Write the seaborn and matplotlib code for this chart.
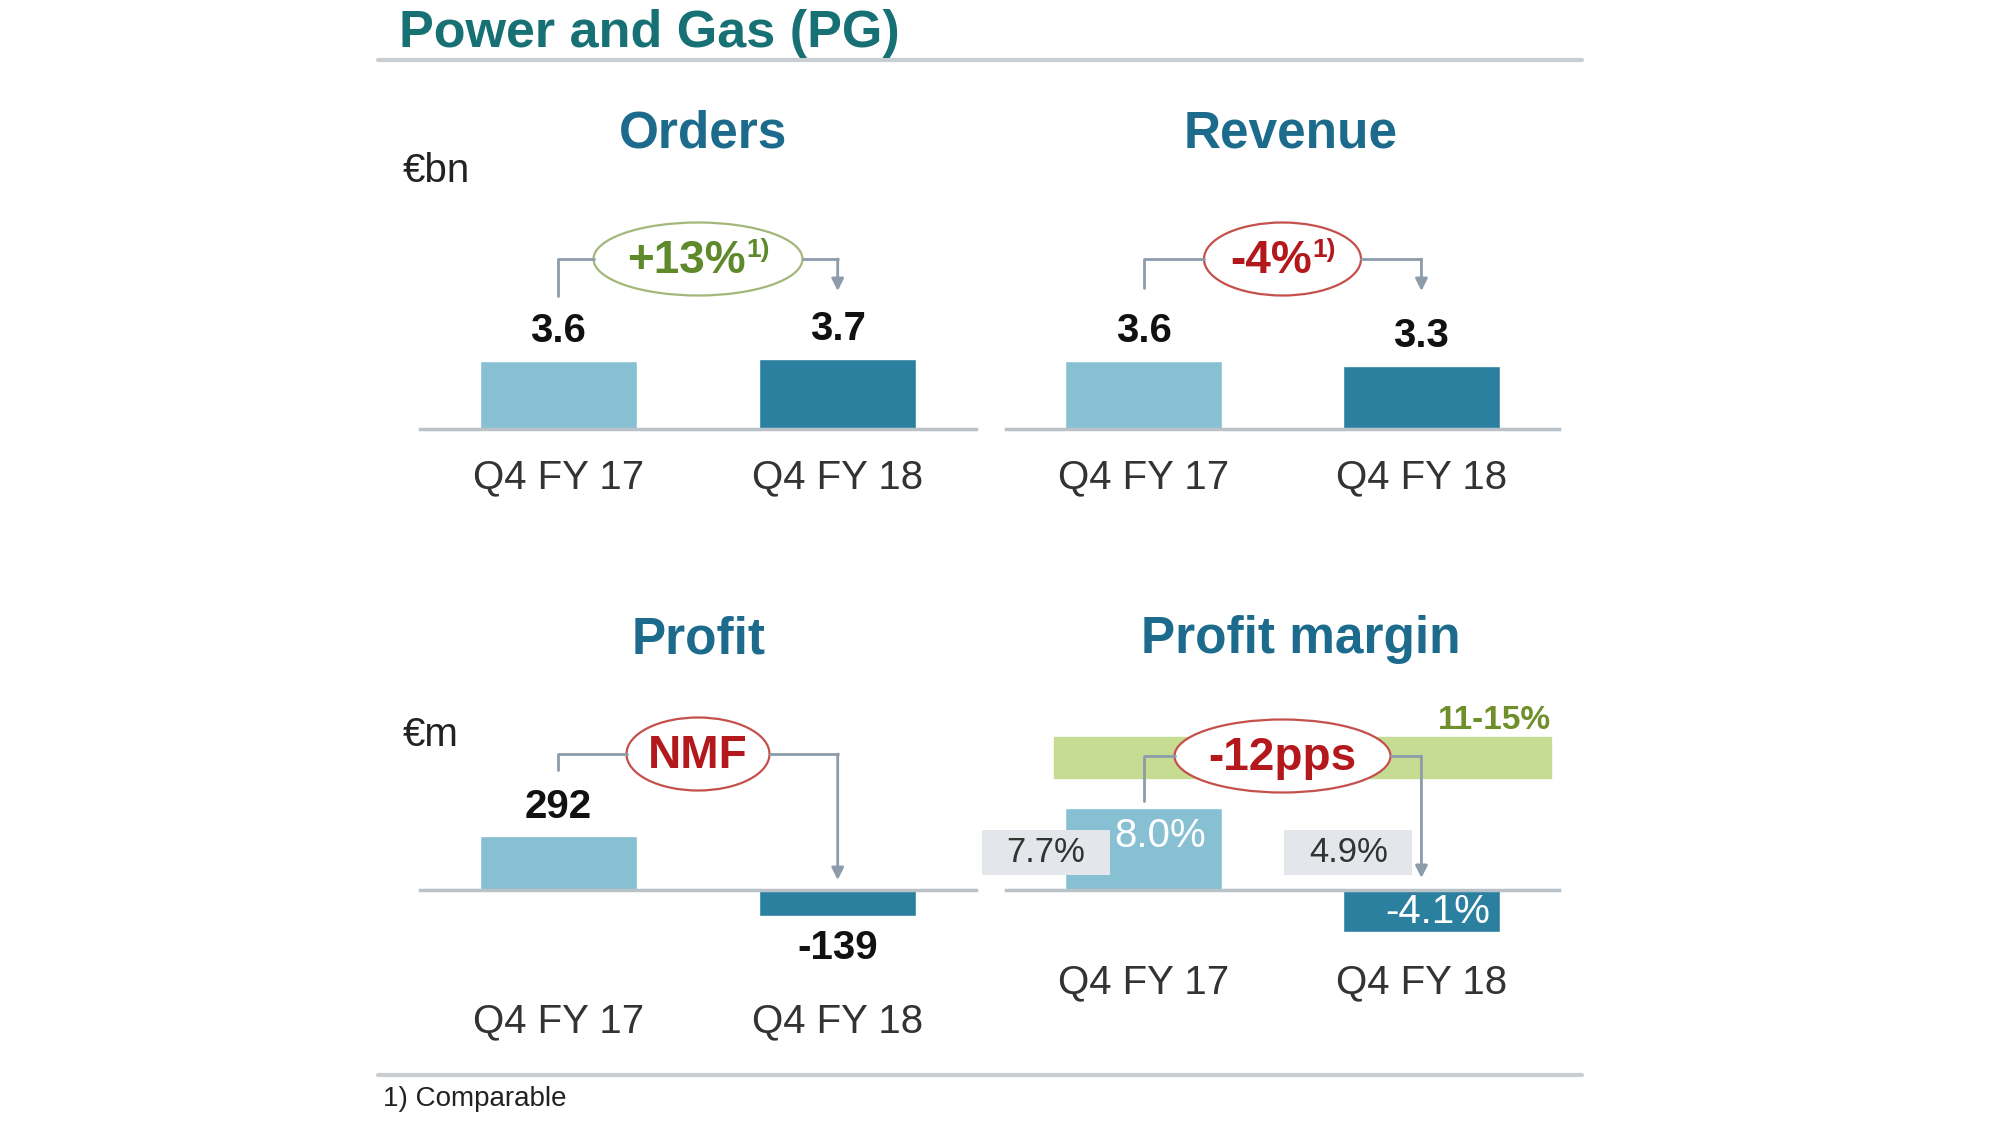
import matplotlib
matplotlib.use("Agg")
import matplotlib.pyplot as plt
import pandas as pd
import seaborn as sns
from matplotlib.lines import Line2D
from matplotlib.patches import Ellipse, FancyArrowPatch, Rectangle

# values
periods = ["Q4 FY 17", "Q4 FY 18"]
orders = [3.6, 3.7]
revenue = [3.6, 3.3]
profit = [292, -139]
margin = [8.0, -4.1]
margin_comparable = [7.7, 4.9]
margin_target = [11, 15]
change_labels = ["+13%", "-4%", "NMF", "-12pps"]
change_notes = ["1)", "1)", "", ""]
change_tone = ["up", "down", "down", "down"]

W, H = 2000, 1125
LIGHT, DARK = "#88c0d3", "#2b80a0"
HEAD = "#1c6a8c"
LINE = "#8d9cab"
TONES = {"up": ("#a3b77a", "#5f8a2c"), "down": ("#c4504c", "#b2181c")}

sns.set_theme(style="white")
plt.rcParams["font.family"] = ["Liberation Sans", "DejaVu Sans"]

fig = plt.figure(figsize=(20, 11.25), dpi=100)
fig.patch.set_facecolor("white")


def fx(px):
    return px / W


def fy(py):
    return 1 - py / H


def panel(values, x0, x1, top, bottom, base, scale, pad):
    ax = fig.add_axes([fx(x0), fy(bottom), (x1 - x0) / W, (bottom - top) / H])
    df = pd.DataFrame({"period": periods, "value": values})
    sns.barplot(data=df, x="period", y="value", hue="period", palette=[LIGHT, DARK],
                width=0.563, saturation=1, legend=False, ax=ax)
    ax.set_xlim(-0.495, 1.495)
    ax.set_ylim(-(bottom - base) / scale, (base - top) / scale)
    for side in ["top", "right", "left"]:
        ax.spines[side].set_visible(False)
    ax.spines["bottom"].set_position(("data", 0))
    ax.spines["bottom"].set_color("#b9c1c9")
    ax.spines["bottom"].set_linewidth(2.5)
    ax.set_yticks([])
    ax.set_xlabel("")
    ax.set_ylabel("")
    ax.tick_params(axis="x", length=0, pad=pad, labelsize=29, labelcolor="#333333")
    ax.patch.set_alpha(0)
    return ax


def bar_px(ax, i):
    return ax.transData.transform((i, 0))[0]


def value_labels(ax, values, fmt, up=30, down=32):
    for i, v in enumerate(values):
        off = up if v >= 0 else -down
        ax.annotate(fmt(v), (i, v), xytext=(0, off / 1.389), textcoords="offset points",
                    ha="center", va="center", fontsize=29, weight="bold", color="#111111")


def bracket(ax, k, cy, ew, y_left, y_arrow, eh=73):
    xl, xr = bar_px(ax, 0), bar_px(ax, 1)
    cx = (xl + xr) / 2
    edge, txt = TONES[change_tone[k]]
    kw = dict(color=LINE, lw=2, transform=fig.transFigure)
    fig.add_artist(Line2D([fx(xl), fx(xl), fx(cx - ew / 2)], [fy(y_left), fy(cy), fy(cy)], **kw))
    fig.add_artist(Line2D([fx(cx + ew / 2), fx(xr)], [fy(cy), fy(cy)], **kw))
    fig.add_artist(FancyArrowPatch((fx(xr), fy(cy)), (fx(xr), fy(y_arrow)), transform=fig.transFigure,
                                   arrowstyle="-|>", mutation_scale=18, color=LINE, lw=2,
                                   shrinkA=0, shrinkB=0))
    fig.add_artist(Ellipse((fx(cx), fy(cy)), ew / W, eh / H, transform=fig.transFigure,
                           facecolor="white", edgecolor=edge, lw=1.6))
    main = fig.text(fx(cx), fy(cy + 2), change_labels[k], ha="center", va="center",
                    fontsize=33, weight="bold", color=txt)
    if change_notes[k]:
        r = fig.canvas.get_renderer()
        note = fig.text(0, 0, change_notes[k], ha="left", va="center", fontsize=19,
                        weight="bold", color=txt)
        wm = main.get_window_extent(r).width
        wn = note.get_window_extent(r).width
        start = cx - (wm + wn) / 2
        main.set_ha("left")
        main.set_position((fx(start), fy(cy + 2)))
        note.set_position((fx(start + wm + 1), fy(cy - 9)))


# header
fig.text(fx(399), fy(47), "Power and Gas (PG)", fontsize=37.5, weight="bold", color="#177074",
         va="baseline")
fig.add_artist(Line2D([fx(378), fx(1582)], [fy(60), fy(60)], color="#c9ced3", lw=3))
fig.add_artist(Line2D([fx(378), fx(1582)], [fy(1075), fy(1075)], color="#c9ced3", lw=3))
fig.text(fx(383), fy(1106), "1) Comparable", fontsize=20, color="#222222", va="baseline")

for title, x, y in [("Orders", 703, 148), ("Revenue", 1291, 148),
                    ("Profit", 699, 653), ("Profit margin", 1301, 653)]:
    fig.text(fx(x), fy(y), title, ha="center", va="baseline", fontsize=37, weight="bold", color=HEAD)
fig.text(fx(403), fy(182), "€bn", fontsize=29, color="#222222", va="baseline")
fig.text(fx(403), fy(746), "€m", fontsize=29, color="#222222", va="baseline")

# orders / revenue
ax_o = panel(orders, 420, 976, 300, 440, 429, 19, 21)
value_labels(ax_o, orders, lambda v: f"{v:.1f}")
bracket(ax_o, 0, 259, 209, 296, 291)

ax_r = panel(revenue, 1006, 1559, 300, 440, 429, 19, 21)
value_labels(ax_r, revenue, lambda v: f"{v:.1f}")
bracket(ax_r, 1, 259, 157, 288, 291)

# profit
ax_p = panel(profit, 420, 976, 800, 960, 890, 0.1835, 81)
value_labels(ax_p, profit, lambda v: f"{v:d}", up=29, down=32)
bracket(ax_p, 2, 754, 143, 770, 880)

# profit margin
ax_m = panel(margin, 1006, 1559, 700, 960, 890, 10.2, 53)
ax_m.axhspan(margin_target[0], margin_target[1], xmin=0.087, xmax=0.986, color="#c6dc93", zorder=0)
ax_m.annotate(f"{margin_target[0]}-{margin_target[1]}%", (0.986, margin_target[1]),
              xycoords=("axes fraction", "data"), xytext=(0, 1), textcoords="offset points",
              ha="right", va="bottom", fontsize=24, weight="bold", color="#6f8f2a")
for i, v in enumerate(margin):
    dy = -20 if v >= 0 else 14
    ax_m.annotate(f"{v:.1f}%", (i, v), xytext=(12, dy), textcoords="offset points",
                  ha="center", va="center", fontsize=29, color="white")
for i, (v, off) in enumerate(zip(margin_comparable, [-98, -73])):
    cx = bar_px(ax_m, i) + off
    fig.add_artist(Rectangle((fx(cx - 64), fy(875)), 128 / W, 45 / H, transform=fig.transFigure,
                             facecolor="#e3e6ea", edgecolor="none"))
    fig.text(fx(cx), fy(853), f"{v}%", ha="center", va="center", fontsize=25, color="#333333")
bracket(ax_m, 3, 756, 216, 801, 878)

fig.savefig("out.png", dpi=100, facecolor="white")
